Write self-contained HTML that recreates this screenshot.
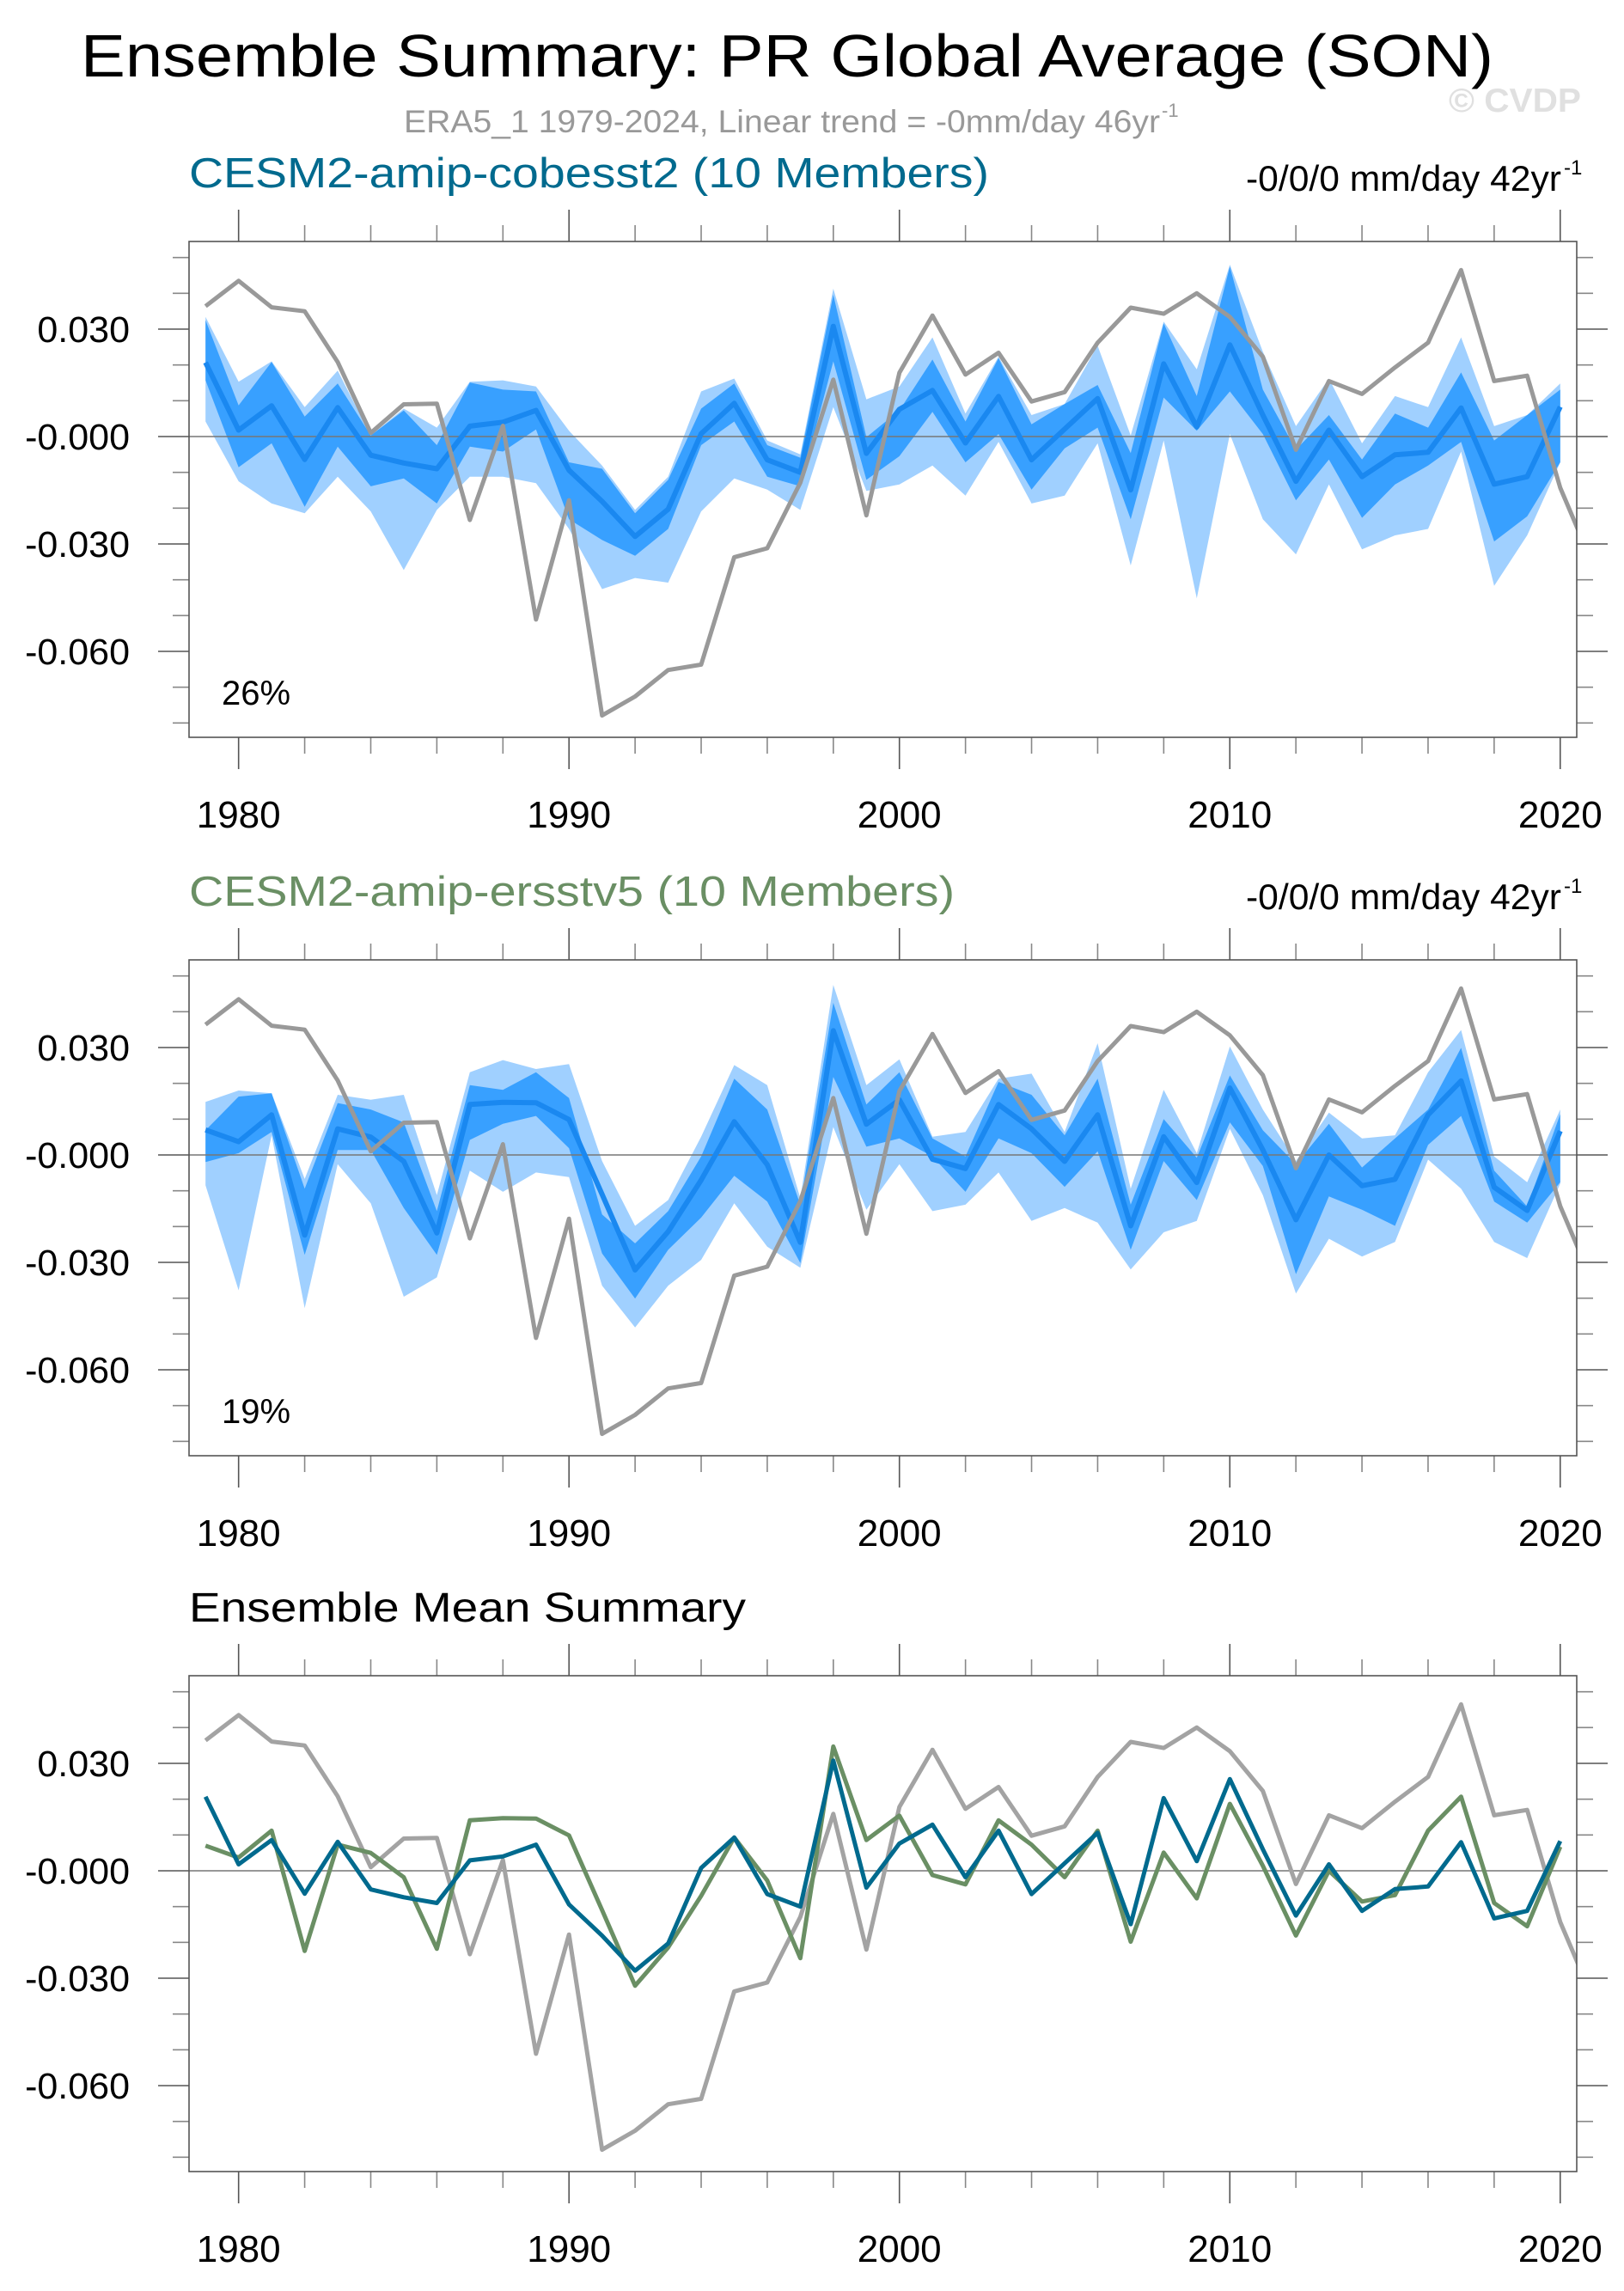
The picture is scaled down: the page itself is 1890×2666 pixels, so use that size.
<!DOCTYPE html>
<html><head><meta charset="utf-8">
<style>
html,body{margin:0;padding:0;background:#fff;}
svg{display:block;font-family:"Liberation Sans",Arial,sans-serif;}
</style></head>
<body>
<svg id="chart" width="1890" height="2666" viewBox="0 0 1890 2666" xmlns="http://www.w3.org/2000/svg">
  <text x="94" y="89" font-size="70" textLength="1644" lengthAdjust="spacingAndGlyphs" fill="#000">Ensemble Summary: PR Global Average (SON)</text>
  <text x="470" y="154" font-size="37" fill="#999" textLength="880" lengthAdjust="spacingAndGlyphs">ERA5_1 1979-2024, Linear trend = -0mm/day 46yr</text>
  <text x="1352" y="136" font-size="22" fill="#999">-1</text>
  <text x="1686" y="130" font-size="39" font-weight="bold" fill="#e0e0e0" textLength="154" lengthAdjust="spacingAndGlyphs">© CVDP</text>
  <g id="panels"></g>
</svg>
<script>
// ---- data (mm/day anomalies), years 1979..2020 ----
const years = [];
for (let y = 1979; y <= 2020; y++) years.push(y);
const obsYears = years.concat([2021]);
const obsERA5 = [0.0364,0.0435,0.0361,0.035,0.0208,0.001,0.009,0.0092,-0.0233,0.003,-0.0511,-0.0178,-0.0779,-0.0726,-0.0652,-0.0637,-0.0337,-0.0312,-0.0129,0.0159,-0.022,0.0178,0.0338,0.0173,0.0234,0.0098,0.0124,0.0262,0.036,0.0343,0.04,0.0334,0.0223,-0.0037,0.0155,0.0119,0.0193,0.0262,0.0465,0.0155,0.017,-0.0143,-0.036];
const meanCobe = [0.0207,0.0018,0.0086,-0.0064,0.0081,-0.0052,-0.0074,-0.009,0.0029,0.004,0.0073,-0.0094,-0.0181,-0.0279,-0.0203,0.0008,0.0093,-0.0065,-0.01,0.0308,-0.0047,0.0076,0.0129,-0.0018,0.0112,-0.0065,0.0021,0.0106,-0.0149,0.0203,0.0027,0.0256,0.006,-0.0125,0.0018,-0.0112,-0.0051,-0.0044,0.008,-0.0133,-0.0112,0.0083];
const meanErsst = [0.007,0.0037,0.0112,-0.0224,0.0073,0.005,-0.0018,-0.0218,0.0141,0.0147,0.0146,0.0099,-0.011,-0.0321,-0.0214,-0.007,0.0093,-0.0027,-0.0244,0.0347,0.0086,0.0154,-0.0012,-0.0038,0.0141,0.0073,-0.0018,0.0112,-0.0198,0.0051,-0.0077,0.0187,0.0014,-0.0181,0,-0.0086,-0.0068,0.0112,0.0207,-0.009,-0.0155,0.0067];
// cobesst2 spread: min/max (light) and inner percentile (dark)
const cobeMax = [0.0334,0.0153,0.021,0.0082,0.0184,0.0003,0.0078,0.0025,0.0153,0.0157,0.014,0.0016,-0.0081,-0.0205,-0.0112,0.0126,0.0162,-0.0011,-0.005,0.0413,0.0104,0.014,0.0277,0.0064,0.0223,0.006,0.0091,0.0254,0.0003,0.0321,0.0188,0.048,0.0237,0.0029,0.0162,-0.0019,0.0113,0.0082,0.0277,0.0029,0.006,0.0148];
const cobeHi = [0.0325,0.0087,0.0208,0.0056,0.0148,0.0003,0.0073,-0.0024,0.0151,0.0131,0.0126,-0.0072,-0.009,-0.0214,-0.0121,0.0078,0.0148,-0.0024,-0.0059,0.0396,-0.0002,0.0073,0.0215,0.0042,0.0219,0.0034,0.0091,0.0144,-0.0046,0.0316,0.0113,0.0475,0.0131,-0.0037,0.006,-0.0064,0.0064,0.0025,0.0179,-0.0011,0.006,0.0131];
const cobeLo = [0.0157,-0.0086,-0.0019,-0.0196,-0.0028,-0.0139,-0.0117,-0.0187,-0.0028,-0.0042,0.002,-0.0231,-0.0289,-0.0333,-0.0258,-0.0024,0.0042,-0.0112,-0.0139,0.021,-0.0121,-0.0055,0.0069,-0.0072,0.0007,-0.0148,-0.0033,0.0025,-0.0231,0.0109,0.0016,0.0126,0.0007,-0.0178,-0.0064,-0.0227,-0.0134,-0.0081,-0.0015,-0.0293,-0.0223,-0.0072];
const cobeMin = [0.0042,-0.0125,-0.0187,-0.0214,-0.0112,-0.0209,-0.0373,-0.0205,-0.0112,-0.0112,-0.013,-0.0258,-0.0426,-0.0395,-0.0408,-0.0209,-0.0117,-0.0148,-0.0205,0.0082,-0.0152,-0.0134,-0.0081,-0.0165,-0.0015,-0.0187,-0.0165,-0.0019,-0.036,-0.0011,-0.0452,0.0007,-0.0231,-0.0329,-0.0134,-0.0315,-0.0276,-0.0258,-0.0042,-0.0417,-0.0276,-0.0072];
// ersstv5 spread
const ersstMax = [0.0148,0.018,0.0172,-0.0067,0.0168,0.0154,0.0168,-0.0112,0.0231,0.0265,0.024,0.0254,-0.0017,-0.0198,-0.0126,0.0051,0.0251,0.0195,-0.0121,0.0475,0.0195,0.0267,0.0051,0.0064,0.0213,0.0227,0.0064,0.0312,-0.0094,0.0182,0.0005,0.0303,0.0127,-0.0017,0.0118,0.0046,0.0055,0.0231,0.0349,-0.0004,-0.0076,0.0127];
const ersstHi = [0.0069,0.0163,0.0172,-0.0094,0.0145,0.0127,0.0091,-0.0157,0.0195,0.0182,0.0231,0.0159,-0.0166,-0.0247,-0.0157,-0.0004,0.0213,0.0127,-0.0139,0.0425,0.0141,0.0231,0.0046,-0.0004,0.0204,0.0168,0.0055,0.0213,-0.0139,0.01,-0.0008,0.0222,0.0069,-0.0026,0.0087,-0.0035,0.0046,0.0127,0.0299,-0.0044,-0.0144,0.0114];
const ersstLo = [-0.002,0.0005,0.0064,-0.0279,0.0014,0.0014,-0.0148,-0.0279,0.0042,0.0087,0.0109,0.0019,-0.0275,-0.0401,-0.0265,-0.0175,-0.0058,-0.013,-0.0302,0.0218,0.0023,0.0046,-0.0004,-0.0103,0.0046,0.0005,-0.0089,0.001,-0.0265,-0.0017,-0.0126,0.0091,-0.0031,-0.0333,-0.0116,-0.0153,-0.0198,0.0028,0.0109,-0.013,-0.0189,-0.0076];
const ersstMin = [-0.0085,-0.0378,0.0055,-0.0428,-0.0026,-0.0135,-0.0396,-0.0342,-0.0044,-0.0103,-0.0049,-0.0062,-0.0365,-0.0482,-0.0365,-0.0293,-0.0135,-0.0256,-0.0315,0.0078,-0.0153,-0.0026,-0.0157,-0.0139,-0.0049,-0.0184,-0.0148,-0.0189,-0.032,-0.0216,-0.0184,0.0073,-0.0112,-0.0387,-0.0234,-0.0284,-0.0243,-0.0013,-0.0094,-0.0243,-0.0288,-0.008];
const yTickValues = [-0.06,-0.03,0,0.03];
const yTickLabels = ["-0.060","-0.030","-0.000","0.030"];
const yMinorValues = [-0.08,-0.07,-0.05,-0.04,-0.02,-0.01,0.01,0.02,0.04,0.05];
const xTickYears = [1980,1990,2000,2010,2020];
const xMinorYears = [1982,1984,1986,1988,1992,1994,1996,1998,2002,2004,2006,2008,2012,2014,2016,2018];

// ---- geometry ----
const NS = "http://www.w3.org/2000/svg";
const LEFT = 220, RIGHT = 1835, H = 577;
const X0 = 1978.5, X1 = 2020.5;
function xScale(yr){ return LEFT + (yr - X0) * (RIGHT - LEFT) / (X1 - X0); }
function yScale(v, top){ return top + 227 - v * 125 / 0.03; }
function mk(tag, attrs, parent){
  const e = document.createElementNS(NS, tag);
  for (const k in attrs) e.setAttribute(k, attrs[k]);
  parent.appendChild(e); return e;
}
function linePts(xs, vs, top){ return xs.map((y,i)=>xScale(y).toFixed(1)+","+yScale(vs[i],top).toFixed(1)).join(" "); }
function bandPts(hi, lo, top){
  const a = years.map((y,i)=>xScale(y).toFixed(1)+","+yScale(hi[i],top).toFixed(1));
  const b = years.map((y,i)=>xScale(y).toFixed(1)+","+yScale(lo[i],top).toFixed(1)).reverse();
  return a.concat(b).join(" ");
}
const root = document.getElementById("panels");

function panel(idx, top, title, titleColor, titleLen, trendText, pct, kind){
  const g = mk("g", {}, root);
  
  
  const bottom = top + H;
  const cid = "clip" + idx;
  const cp = mk("clipPath", {id: cid}, g);
  mk("rect", {x: LEFT, y: top, width: RIGHT-LEFT, height: H}, cp);

  const t = mk("text", {x: LEFT, y: top - 63, "font-size": kind==="mean"?48:49, fill: titleColor, textLength: titleLen, lengthAdjust: "spacingAndGlyphs"}, g);
  t.textContent = title;
  
  
  if (trendText){
    const tr = mk("text", {x: 1450, y: top - 59, "font-size": 42, fill: "#000", textLength: 367, lengthAdjust: "spacingAndGlyphs"}, g);
    tr.textContent = trendText;
    
    
    const sup = mk("text", {x: 1820, y: top - 78, "font-size": 24, fill: "#000"}, g);
    sup.textContent = "-1";
    
    
  }
  // ticks
  const tk = mk("g", {stroke: "#555", "stroke-width": 1.6}, g);
  
  
  xTickYears.forEach(y=>{ const x = xScale(y);
    mk("line", {x1:x, x2:x, y1:top-37, y2:top}, tk); mk("line", {x1:x, x2:x, y1:bottom, y2:bottom+37}, tk); });
  xMinorYears.forEach(y=>{ const x = xScale(y);
    mk("line", {x1:x, x2:x, y1:top-19, y2:top, stroke:"#888"}, tk); mk("line", {x1:x, x2:x, y1:bottom, y2:bottom+19, stroke:"#888"}, tk); });
  yTickValues.forEach(v=>{ const y = yScale(v, top);
    mk("line", {x1:LEFT-36, x2:LEFT, y1:y, y2:y}, tk); mk("line", {x1:RIGHT, x2:RIGHT+36, y1:y, y2:y}, tk); });
  yMinorValues.forEach(v=>{ const y = yScale(v, top);
    mk("line", {x1:LEFT-19, x2:LEFT, y1:y, y2:y, stroke:"#888"}, tk); mk("line", {x1:RIGHT, x2:RIGHT+19, y1:y, y2:y, stroke:"#888"}, tk); });
  // tick labels
  yTickValues.forEach((v,i)=>{
    const l = mk("text", {x: 151, y: yScale(v, top) + 15, "font-size": 43, "text-anchor": "end", fill: "#000"}, g);
    l.textContent = yTickLabels[i];
    
    
  });
  xTickYears.forEach(yr=>{
    const l = mk("text", {x: xScale(yr), y: bottom + 105, "font-size": 44, "text-anchor": "middle", fill: "#000"}, g);
    l.textContent = String(yr);
    
    
  });
  const d = mk("g", {"clip-path": "url(#" + cid + ")"}, g);
  
  
  if (kind === "cobe" || kind === "ersst"){
    const mx = kind==="cobe"?cobeMax:ersstMax, hi = kind==="cobe"?cobeHi:ersstHi,
          lo = kind==="cobe"?cobeLo:ersstLo, mn = kind==="cobe"?cobeMin:ersstMin,
          mean = kind==="cobe"?meanCobe:meanErsst;
    const b1 = mk("polygon", {points: bandPts(mx, mn, top), fill: "#a0d0ff"}, d);
    
    
    const b2 = mk("polygon", {points: bandPts(hi, lo, top), fill: "#38a0ff"}, d);
    
    
    const zl = mk("line", {x1: LEFT, x2: RIGHT, y1: yScale(0, top), y2: yScale(0, top), stroke: "#777", "stroke-width": 1.6}, d);
    
    
    const ml = mk("polyline", {points: linePts(years, mean, top), fill: "none", stroke: "#1a88f0", "stroke-width": 6, "stroke-linejoin": "round"}, d);
    
    
    const ol = mk("polyline", {points: linePts(obsYears, obsERA5, top), fill: "none", stroke: "#999", "stroke-width": 5, "stroke-linejoin": "round"}, d);
    
    
  } else {
    const zl = mk("line", {x1: LEFT, x2: RIGHT, y1: yScale(0, top), y2: yScale(0, top), stroke: "#777", "stroke-width": 1.6}, d);
    
    
    const ol = mk("polyline", {points: linePts(obsYears, obsERA5, top), fill: "none", stroke: "#a3a3a3", "stroke-width": 5, "stroke-linejoin": "round"}, d);
    
    
    const gl = mk("polyline", {points: linePts(years, meanErsst, top), fill: "none", stroke: "#6a8f64", "stroke-width": 5, "stroke-linejoin": "round"}, d);
    
    
    const bl = mk("polyline", {points: linePts(years, meanCobe, top), fill: "none", stroke: "#006a8e", "stroke-width": 5, "stroke-linejoin": "round"}, d);
    
    
  }
  const fr = mk("rect", {x: LEFT, y: top, width: RIGHT-LEFT, height: H, fill: "none", stroke: "#555", "stroke-width": 1.6}, g);
  
  
  if (pct){
    const p = mk("text", {x: 258, y: top + 539, "font-size": 40, fill: "#000"}, g);
    p.textContent = pct;
    
    
  }
}
panel(1, 281, "CESM2-amip-cobesst2 (10 Members)", "#006a8e", 931, "-0/0/0 mm/day 42yr", "26%", "cobe");
panel(2, 1117, "CESM2-amip-ersstv5 (10 Members)", "#6a8f64", 891, "-0/0/0 mm/day 42yr", "19%", "ersst");
panel(3, 1950, "Ensemble Mean Summary", "#000", 648, null, null, "mean");
</script>
</body></html>
